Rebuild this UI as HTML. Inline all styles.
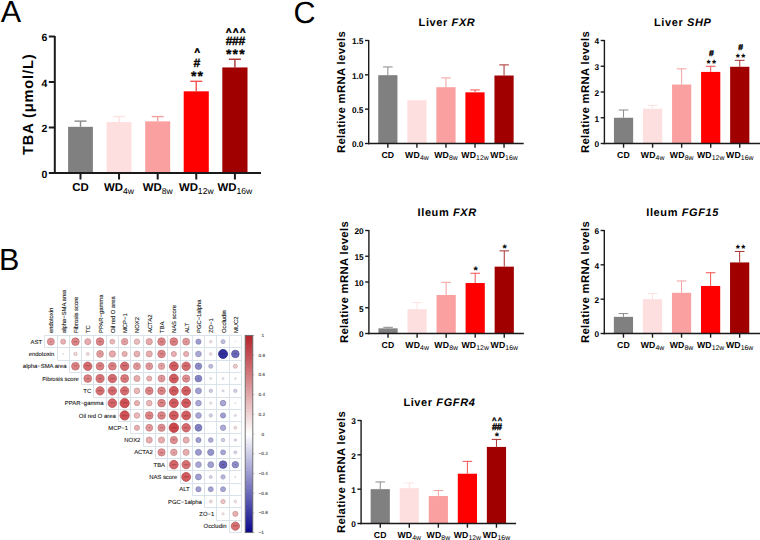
<!DOCTYPE html><html><head><meta charset="utf-8"><style>
html,body{margin:0;padding:0;background:#fff;overflow:hidden;width:760px;height:540px;}
svg{display:block;font-family:"Liberation Sans", sans-serif;text-rendering:geometricPrecision;}
</style></head><body>
<svg width="760" height="540" viewBox="0 0 760 540">
<rect width="760" height="540" fill="#fff"/>
<text x="0.7" y="22.2" font-size="30.5">A</text>
<text x="-1" y="269.7" font-size="30.5">B</text>
<text x="293.6" y="22.5" font-size="30.5">C</text>
<rect x="68.1" y="126.82" width="24.80000000000001" height="46.18" fill="#808080"/>
<line x1="80.5" y1="126.82" x2="80.5" y2="121.13" stroke="#8a8a8a" stroke-width="1.4"/>
<line x1="74.5" y1="121.13" x2="86.5" y2="121.13" stroke="#8a8a8a" stroke-width="1.4"/>
<rect x="106.6" y="122.04" width="24.900000000000006" height="50.96" fill="#fedfe0"/>
<line x1="119.05" y1="122.04" x2="119.05" y2="116.58" stroke="#fde2e2" stroke-width="1.4"/>
<line x1="113.05" y1="116.58" x2="125.05" y2="116.58" stroke="#fde2e2" stroke-width="1.4"/>
<rect x="145.2" y="121.36" width="25.0" height="51.64" fill="#faa0a0"/>
<line x1="157.7" y1="121.36" x2="157.7" y2="116.58" stroke="#f4a0a0" stroke-width="1.4"/>
<line x1="151.7" y1="116.58" x2="163.7" y2="116.58" stroke="#f4a0a0" stroke-width="1.4"/>
<rect x="183.7" y="91.33" width="25.100000000000023" height="81.67" fill="#ff0000"/>
<line x1="196.25" y1="91.33" x2="196.25" y2="81.32" stroke="#f65050" stroke-width="1.4"/>
<line x1="190.25" y1="81.32" x2="202.25" y2="81.32" stroke="#f65050" stroke-width="1.4"/>
<rect x="222.3" y="67.44" width="25.19999999999999" height="105.56" fill="#a00000"/>
<line x1="234.9" y1="67.44" x2="234.9" y2="59.25" stroke="#a83030" stroke-width="1.4"/>
<line x1="228.9" y1="59.25" x2="240.9" y2="59.25" stroke="#a83030" stroke-width="1.4"/>
<line x1="54.8" y1="36.0" x2="54.8" y2="174.0" stroke="#1a1a1a" stroke-width="2"/>
<line x1="53.8" y1="173.0" x2="261" y2="173.0" stroke="#1a1a1a" stroke-width="2"/>
<line x1="48.8" y1="173.00" x2="54.8" y2="173.00" stroke="#1a1a1a" stroke-width="2"/>
<text x="47.3" y="177.51" font-size="10.5" font-weight="bold" text-anchor="end">0</text>
<line x1="48.8" y1="127.50" x2="54.8" y2="127.50" stroke="#1a1a1a" stroke-width="2"/>
<text x="47.3" y="132.01" font-size="10.5" font-weight="bold" text-anchor="end">2</text>
<line x1="48.8" y1="82.00" x2="54.8" y2="82.00" stroke="#1a1a1a" stroke-width="2"/>
<text x="47.3" y="86.52" font-size="10.5" font-weight="bold" text-anchor="end">4</text>
<line x1="48.8" y1="36.50" x2="54.8" y2="36.50" stroke="#1a1a1a" stroke-width="2"/>
<text x="47.3" y="41.02" font-size="10.5" font-weight="bold" text-anchor="end">6</text>
<line x1="80.5" y1="173.0" x2="80.5" y2="179.5" stroke="#1a1a1a" stroke-width="2"/>
<text x="80.5" y="191.4" font-size="11.4" font-weight="bold" text-anchor="middle" letter-spacing="0">CD</text>
<line x1="119.05" y1="173.0" x2="119.05" y2="179.5" stroke="#1a1a1a" stroke-width="2"/>
<text x="119.05" y="191.4" font-size="11.4" font-weight="bold" text-anchor="middle" letter-spacing="0">WD<tspan font-size="8.6" font-weight="normal" letter-spacing="0" dy="2.4000000000000057">4w</tspan></text>
<line x1="157.7" y1="173.0" x2="157.7" y2="179.5" stroke="#1a1a1a" stroke-width="2"/>
<text x="157.7" y="191.4" font-size="11.4" font-weight="bold" text-anchor="middle" letter-spacing="0">WD<tspan font-size="8.6" font-weight="normal" letter-spacing="0" dy="2.4000000000000057">8w</tspan></text>
<line x1="196.25" y1="173.0" x2="196.25" y2="179.5" stroke="#1a1a1a" stroke-width="2"/>
<text x="196.25" y="191.4" font-size="11.4" font-weight="bold" text-anchor="middle" letter-spacing="0">WD<tspan font-size="8.6" font-weight="normal" letter-spacing="0" dy="2.4000000000000057">12w</tspan></text>
<line x1="234.9" y1="173.0" x2="234.9" y2="179.5" stroke="#1a1a1a" stroke-width="2"/>
<text x="234.9" y="191.4" font-size="11.4" font-weight="bold" text-anchor="middle" letter-spacing="0">WD<tspan font-size="8.6" font-weight="normal" letter-spacing="0" dy="2.4000000000000057">16w</tspan></text>
<text transform="translate(33.1,154.9) rotate(-90)" font-size="14.6" font-weight="bold" letter-spacing="0.85">TBA (μmol/L)</text>
<text x="197.20" y="55.32" font-size="9.3" font-weight="bold" text-anchor="middle" stroke="#000" stroke-width="0.55">^</text>
<text x="196.80" y="67.10" font-size="12.2" font-weight="bold" text-anchor="middle" stroke="#000" stroke-width="0.3">#</text>
<text x="193.85" y="81.26" font-size="14" font-weight="bold" text-anchor="middle" stroke="#000" stroke-width="0.25">*</text>
<text x="200.15" y="81.26" font-size="14" font-weight="bold" text-anchor="middle" stroke="#000" stroke-width="0.25">*</text>
<text x="228.60" y="34.92" font-size="9.3" font-weight="bold" text-anchor="middle" stroke="#000" stroke-width="0.55">^</text>
<text x="235.60" y="34.92" font-size="9.3" font-weight="bold" text-anchor="middle" stroke="#000" stroke-width="0.55">^</text>
<text x="242.60" y="34.92" font-size="9.3" font-weight="bold" text-anchor="middle" stroke="#000" stroke-width="0.55">^</text>
<text x="229.20" y="44.60" font-size="12.2" font-weight="bold" text-anchor="middle" stroke="#000" stroke-width="0.3">#</text>
<text x="235.50" y="44.60" font-size="12.2" font-weight="bold" text-anchor="middle" stroke="#000" stroke-width="0.3">#</text>
<text x="241.80" y="44.60" font-size="12.2" font-weight="bold" text-anchor="middle" stroke="#000" stroke-width="0.3">#</text>
<text x="228.70" y="58.66" font-size="14" font-weight="bold" text-anchor="middle" stroke="#000" stroke-width="0.25">*</text>
<text x="235.30" y="58.66" font-size="14" font-weight="bold" text-anchor="middle" stroke="#000" stroke-width="0.25">*</text>
<text x="241.90" y="58.66" font-size="14" font-weight="bold" text-anchor="middle" stroke="#000" stroke-width="0.25">*</text>
<rect x="378.25" y="75.18" width="19.19999999999999" height="68.32" fill="#808080"/>
<line x1="387.85" y1="75.18" x2="387.85" y2="66.94" stroke="#8a8a8a" stroke-width="1.0"/>
<line x1="383.05" y1="66.94" x2="392.65000000000003" y2="66.94" stroke="#8a8a8a" stroke-width="1.0"/>
<rect x="407.3" y="100.24" width="19.19999999999999" height="43.26" fill="#fedfe0"/>
<rect x="436.35" y="87.19" width="19.19999999999999" height="56.31" fill="#faa0a0"/>
<line x1="445.95000000000005" y1="87.19" x2="445.95000000000005" y2="77.92" stroke="#f4a0a0" stroke-width="1.0"/>
<line x1="441.15000000000003" y1="77.92" x2="450.75000000000006" y2="77.92" stroke="#f4a0a0" stroke-width="1.0"/>
<rect x="465.4" y="92.34" width="19.200000000000045" height="51.16" fill="#ff0000"/>
<line x1="475.0" y1="92.34" x2="475.0" y2="89.94" stroke="#f65050" stroke-width="1.0"/>
<line x1="470.2" y1="89.94" x2="479.8" y2="89.94" stroke="#f65050" stroke-width="1.0"/>
<rect x="494.45" y="75.52" width="19.19999999999999" height="67.98" fill="#a00000"/>
<line x1="504.04999999999995" y1="75.52" x2="504.04999999999995" y2="64.88" stroke="#a83030" stroke-width="1.0"/>
<line x1="499.24999999999994" y1="64.88" x2="508.84999999999997" y2="64.88" stroke="#a83030" stroke-width="1.0"/>
<line x1="368.7" y1="40.0" x2="368.7" y2="144.2" stroke="#1a1a1a" stroke-width="1.4"/>
<line x1="368.0" y1="143.5" x2="523.7" y2="143.5" stroke="#1a1a1a" stroke-width="1.4"/>
<line x1="365.0" y1="143.50" x2="368.7" y2="143.50" stroke="#1a1a1a" stroke-width="1.4"/>
<text x="363.5" y="147.40" font-size="8.3" font-weight="bold" text-anchor="end">0.0</text>
<line x1="365.0" y1="109.17" x2="368.7" y2="109.17" stroke="#1a1a1a" stroke-width="1.4"/>
<text x="363.5" y="113.07" font-size="8.3" font-weight="bold" text-anchor="end">0.5</text>
<line x1="365.0" y1="74.83" x2="368.7" y2="74.83" stroke="#1a1a1a" stroke-width="1.4"/>
<text x="363.5" y="78.73" font-size="8.3" font-weight="bold" text-anchor="end">1.0</text>
<line x1="365.0" y1="40.50" x2="368.7" y2="40.50" stroke="#1a1a1a" stroke-width="1.4"/>
<text x="363.5" y="44.40" font-size="8.3" font-weight="bold" text-anchor="end">1.5</text>
<line x1="387.85" y1="143.5" x2="387.85" y2="147.7" stroke="#1a1a1a" stroke-width="1.4"/>
<text x="387.85" y="157.8" font-size="8.7" font-weight="bold" text-anchor="middle" letter-spacing="0.15">CD</text>
<line x1="416.9" y1="143.5" x2="416.9" y2="147.7" stroke="#1a1a1a" stroke-width="1.4"/>
<text x="416.9" y="157.8" font-size="8.7" font-weight="bold" text-anchor="middle" letter-spacing="0.15">WD<tspan font-size="6.9" font-weight="normal" letter-spacing="0" dy="2.0">4w</tspan></text>
<line x1="445.95000000000005" y1="143.5" x2="445.95000000000005" y2="147.7" stroke="#1a1a1a" stroke-width="1.4"/>
<text x="445.95000000000005" y="157.8" font-size="8.7" font-weight="bold" text-anchor="middle" letter-spacing="0.15">WD<tspan font-size="6.9" font-weight="normal" letter-spacing="0" dy="2.0">8w</tspan></text>
<line x1="475.0" y1="143.5" x2="475.0" y2="147.7" stroke="#1a1a1a" stroke-width="1.4"/>
<text x="475.0" y="157.8" font-size="8.7" font-weight="bold" text-anchor="middle" letter-spacing="0.15">WD<tspan font-size="6.9" font-weight="normal" letter-spacing="0" dy="2.0">12w</tspan></text>
<line x1="504.04999999999995" y1="143.5" x2="504.04999999999995" y2="147.7" stroke="#1a1a1a" stroke-width="1.4"/>
<text x="504.04999999999995" y="157.8" font-size="8.7" font-weight="bold" text-anchor="middle" letter-spacing="0.15">WD<tspan font-size="6.9" font-weight="normal" letter-spacing="0" dy="2.0">16w</tspan></text>
<text transform="translate(345.2,92.0) rotate(-90)" x="0" y="0" font-size="11.3" font-weight="bold" text-anchor="middle" letter-spacing="0.35">Relative mRNA levels</text>
<text x="447.0" y="26.1" font-size="11" font-weight="bold" text-anchor="middle" letter-spacing="0.6">Liver <tspan font-style="italic">FXR</tspan></text>
<rect x="613.95" y="117.75" width="19.199999999999932" height="25.75" fill="#808080"/>
<line x1="623.55" y1="117.75" x2="623.55" y2="110.03" stroke="#8a8a8a" stroke-width="1.0"/>
<line x1="618.75" y1="110.03" x2="628.3499999999999" y2="110.03" stroke="#8a8a8a" stroke-width="1.0"/>
<rect x="643.0" y="108.74" width="19.200000000000045" height="34.76" fill="#fedfe0"/>
<line x1="652.6" y1="108.74" x2="652.6" y2="105.39" stroke="#fde2e2" stroke-width="1.0"/>
<line x1="647.8" y1="105.39" x2="657.4000000000001" y2="105.39" stroke="#fde2e2" stroke-width="1.0"/>
<rect x="672.05" y="84.53" width="19.200000000000045" height="58.97" fill="#faa0a0"/>
<line x1="681.65" y1="84.53" x2="681.65" y2="68.83" stroke="#f4a0a0" stroke-width="1.0"/>
<line x1="676.8499999999999" y1="68.83" x2="686.45" y2="68.83" stroke="#f4a0a0" stroke-width="1.0"/>
<rect x="701.1" y="71.92" width="19.199999999999932" height="71.58" fill="#ff0000"/>
<line x1="710.7" y1="71.92" x2="710.7" y2="66.25" stroke="#f65050" stroke-width="1.0"/>
<line x1="705.9000000000001" y1="66.25" x2="715.5" y2="66.25" stroke="#f65050" stroke-width="1.0"/>
<rect x="730.15" y="66.77" width="19.200000000000045" height="76.73" fill="#a00000"/>
<line x1="739.75" y1="66.77" x2="739.75" y2="60.33" stroke="#a83030" stroke-width="1.0"/>
<line x1="734.95" y1="60.33" x2="744.55" y2="60.33" stroke="#a83030" stroke-width="1.0"/>
<line x1="604.4" y1="40.0" x2="604.4" y2="144.2" stroke="#1a1a1a" stroke-width="1.4"/>
<line x1="603.6999999999999" y1="143.5" x2="760" y2="143.5" stroke="#1a1a1a" stroke-width="1.4"/>
<line x1="600.6999999999999" y1="143.50" x2="604.4" y2="143.50" stroke="#1a1a1a" stroke-width="1.4"/>
<text x="599.1999999999999" y="147.40" font-size="8.3" font-weight="bold" text-anchor="end">0</text>
<line x1="600.6999999999999" y1="117.75" x2="604.4" y2="117.75" stroke="#1a1a1a" stroke-width="1.4"/>
<text x="599.1999999999999" y="121.65" font-size="8.3" font-weight="bold" text-anchor="end">1</text>
<line x1="600.6999999999999" y1="92.00" x2="604.4" y2="92.00" stroke="#1a1a1a" stroke-width="1.4"/>
<text x="599.1999999999999" y="95.90" font-size="8.3" font-weight="bold" text-anchor="end">2</text>
<line x1="600.6999999999999" y1="66.25" x2="604.4" y2="66.25" stroke="#1a1a1a" stroke-width="1.4"/>
<text x="599.1999999999999" y="70.15" font-size="8.3" font-weight="bold" text-anchor="end">3</text>
<line x1="600.6999999999999" y1="40.50" x2="604.4" y2="40.50" stroke="#1a1a1a" stroke-width="1.4"/>
<text x="599.1999999999999" y="44.40" font-size="8.3" font-weight="bold" text-anchor="end">4</text>
<line x1="623.55" y1="143.5" x2="623.55" y2="147.7" stroke="#1a1a1a" stroke-width="1.4"/>
<text x="623.55" y="157.8" font-size="8.7" font-weight="bold" text-anchor="middle" letter-spacing="0.15">CD</text>
<line x1="652.6" y1="143.5" x2="652.6" y2="147.7" stroke="#1a1a1a" stroke-width="1.4"/>
<text x="652.6" y="157.8" font-size="8.7" font-weight="bold" text-anchor="middle" letter-spacing="0.15">WD<tspan font-size="6.9" font-weight="normal" letter-spacing="0" dy="2.0">4w</tspan></text>
<line x1="681.65" y1="143.5" x2="681.65" y2="147.7" stroke="#1a1a1a" stroke-width="1.4"/>
<text x="681.65" y="157.8" font-size="8.7" font-weight="bold" text-anchor="middle" letter-spacing="0.15">WD<tspan font-size="6.9" font-weight="normal" letter-spacing="0" dy="2.0">8w</tspan></text>
<line x1="710.7" y1="143.5" x2="710.7" y2="147.7" stroke="#1a1a1a" stroke-width="1.4"/>
<text x="710.7" y="157.8" font-size="8.7" font-weight="bold" text-anchor="middle" letter-spacing="0.15">WD<tspan font-size="6.9" font-weight="normal" letter-spacing="0" dy="2.0">12w</tspan></text>
<line x1="739.75" y1="143.5" x2="739.75" y2="147.7" stroke="#1a1a1a" stroke-width="1.4"/>
<text x="739.75" y="157.8" font-size="8.7" font-weight="bold" text-anchor="middle" letter-spacing="0.15">WD<tspan font-size="6.9" font-weight="normal" letter-spacing="0" dy="2.0">16w</tspan></text>
<text transform="translate(588.5,92.0) rotate(-90)" x="0" y="0" font-size="11.3" font-weight="bold" text-anchor="middle" letter-spacing="0.35">Relative mRNA levels</text>
<text x="682.7" y="26.1" font-size="11" font-weight="bold" text-anchor="middle" letter-spacing="0.6">Liver <tspan font-style="italic">SHP</tspan></text>
<text x="711.50" y="56.05" font-size="8.6" font-weight="bold" text-anchor="middle" stroke="#000" stroke-width="0.35">#</text>
<text x="708.60" y="66.55" font-size="10.5" font-weight="bold" text-anchor="middle">*</text>
<text x="714.00" y="66.55" font-size="10.5" font-weight="bold" text-anchor="middle">*</text>
<text x="740.70" y="50.15" font-size="8.6" font-weight="bold" text-anchor="middle" stroke="#000" stroke-width="0.35">#</text>
<text x="737.80" y="60.64" font-size="10.5" font-weight="bold" text-anchor="middle">*</text>
<text x="743.20" y="60.64" font-size="10.5" font-weight="bold" text-anchor="middle">*</text>
<rect x="378.45" y="328.35" width="19.19999999999999" height="5.15" fill="#808080"/>
<line x1="388.04999999999995" y1="328.35" x2="388.04999999999995" y2="327.32" stroke="#8a8a8a" stroke-width="1.0"/>
<line x1="383.24999999999994" y1="327.32" x2="392.84999999999997" y2="327.32" stroke="#8a8a8a" stroke-width="1.0"/>
<rect x="407.5" y="309.09" width="19.19999999999999" height="24.41" fill="#fedfe0"/>
<line x1="417.1" y1="309.09" x2="417.1" y2="302.60" stroke="#fde2e2" stroke-width="1.0"/>
<line x1="412.3" y1="302.60" x2="421.90000000000003" y2="302.60" stroke="#fde2e2" stroke-width="1.0"/>
<rect x="436.55" y="295.03" width="19.19999999999999" height="38.47" fill="#faa0a0"/>
<line x1="446.15" y1="295.03" x2="446.15" y2="282.31" stroke="#f4a0a0" stroke-width="1.0"/>
<line x1="441.34999999999997" y1="282.31" x2="450.95" y2="282.31" stroke="#f4a0a0" stroke-width="1.0"/>
<rect x="465.6" y="283.03" width="19.19999999999999" height="50.47" fill="#ff0000"/>
<line x1="475.20000000000005" y1="283.03" x2="475.20000000000005" y2="273.25" stroke="#f65050" stroke-width="1.0"/>
<line x1="470.40000000000003" y1="273.25" x2="480.00000000000006" y2="273.25" stroke="#f65050" stroke-width="1.0"/>
<rect x="494.65" y="266.65" width="19.200000000000045" height="66.85" fill="#a00000"/>
<line x1="504.25" y1="266.65" x2="504.25" y2="250.89" stroke="#a83030" stroke-width="1.0"/>
<line x1="499.45" y1="250.89" x2="509.05" y2="250.89" stroke="#a83030" stroke-width="1.0"/>
<line x1="368.9" y1="230.0" x2="368.9" y2="334.2" stroke="#1a1a1a" stroke-width="1.4"/>
<line x1="368.2" y1="333.5" x2="523.9" y2="333.5" stroke="#1a1a1a" stroke-width="1.4"/>
<line x1="365.2" y1="333.50" x2="368.9" y2="333.50" stroke="#1a1a1a" stroke-width="1.4"/>
<text x="363.7" y="337.40" font-size="8.3" font-weight="bold" text-anchor="end">0</text>
<line x1="365.2" y1="307.75" x2="368.9" y2="307.75" stroke="#1a1a1a" stroke-width="1.4"/>
<text x="363.7" y="311.65" font-size="8.3" font-weight="bold" text-anchor="end">5</text>
<line x1="365.2" y1="282.00" x2="368.9" y2="282.00" stroke="#1a1a1a" stroke-width="1.4"/>
<text x="363.7" y="285.90" font-size="8.3" font-weight="bold" text-anchor="end">10</text>
<line x1="365.2" y1="256.25" x2="368.9" y2="256.25" stroke="#1a1a1a" stroke-width="1.4"/>
<text x="363.7" y="260.15" font-size="8.3" font-weight="bold" text-anchor="end">15</text>
<line x1="365.2" y1="230.50" x2="368.9" y2="230.50" stroke="#1a1a1a" stroke-width="1.4"/>
<text x="363.7" y="234.40" font-size="8.3" font-weight="bold" text-anchor="end">20</text>
<line x1="388.04999999999995" y1="333.5" x2="388.04999999999995" y2="337.7" stroke="#1a1a1a" stroke-width="1.4"/>
<text x="388.04999999999995" y="347.8" font-size="8.7" font-weight="bold" text-anchor="middle" letter-spacing="0.15">CD</text>
<line x1="417.1" y1="333.5" x2="417.1" y2="337.7" stroke="#1a1a1a" stroke-width="1.4"/>
<text x="417.1" y="347.8" font-size="8.7" font-weight="bold" text-anchor="middle" letter-spacing="0.15">WD<tspan font-size="6.9" font-weight="normal" letter-spacing="0" dy="2.0">4w</tspan></text>
<line x1="446.15" y1="333.5" x2="446.15" y2="337.7" stroke="#1a1a1a" stroke-width="1.4"/>
<text x="446.15" y="347.8" font-size="8.7" font-weight="bold" text-anchor="middle" letter-spacing="0.15">WD<tspan font-size="6.9" font-weight="normal" letter-spacing="0" dy="2.0">8w</tspan></text>
<line x1="475.20000000000005" y1="333.5" x2="475.20000000000005" y2="337.7" stroke="#1a1a1a" stroke-width="1.4"/>
<text x="475.20000000000005" y="347.8" font-size="8.7" font-weight="bold" text-anchor="middle" letter-spacing="0.15">WD<tspan font-size="6.9" font-weight="normal" letter-spacing="0" dy="2.0">12w</tspan></text>
<line x1="504.25" y1="333.5" x2="504.25" y2="337.7" stroke="#1a1a1a" stroke-width="1.4"/>
<text x="504.25" y="347.8" font-size="8.7" font-weight="bold" text-anchor="middle" letter-spacing="0.15">WD<tspan font-size="6.9" font-weight="normal" letter-spacing="0" dy="2.0">16w</tspan></text>
<text transform="translate(348.29999999999995,282.0) rotate(-90)" x="0" y="0" font-size="11.3" font-weight="bold" text-anchor="middle" letter-spacing="0.35">Relative mRNA levels</text>
<text x="447.2" y="215.9" font-size="11" font-weight="bold" text-anchor="middle" letter-spacing="0.6">Ileum <tspan font-style="italic">FXR</tspan></text>
<text x="475.60" y="274.39" font-size="11" font-weight="bold" text-anchor="middle">*</text>
<text x="504.70" y="251.69" font-size="11" font-weight="bold" text-anchor="middle">*</text>
<rect x="613.85" y="316.85" width="19.199999999999932" height="16.65" fill="#808080"/>
<line x1="623.45" y1="316.85" x2="623.45" y2="313.59" stroke="#8a8a8a" stroke-width="1.0"/>
<line x1="618.6500000000001" y1="313.59" x2="628.25" y2="313.59" stroke="#8a8a8a" stroke-width="1.0"/>
<rect x="642.9" y="299.17" width="19.200000000000045" height="34.33" fill="#fedfe0"/>
<line x1="652.5" y1="299.17" x2="652.5" y2="293.50" stroke="#fde2e2" stroke-width="1.0"/>
<line x1="647.7" y1="293.50" x2="657.3" y2="293.50" stroke="#fde2e2" stroke-width="1.0"/>
<rect x="671.95" y="292.81" width="19.199999999999932" height="40.69" fill="#faa0a0"/>
<line x1="681.55" y1="292.81" x2="681.55" y2="280.97" stroke="#f4a0a0" stroke-width="1.0"/>
<line x1="676.75" y1="280.97" x2="686.3499999999999" y2="280.97" stroke="#f4a0a0" stroke-width="1.0"/>
<rect x="701.0" y="285.95" width="19.200000000000045" height="47.55" fill="#ff0000"/>
<line x1="710.6" y1="285.95" x2="710.6" y2="272.73" stroke="#f65050" stroke-width="1.0"/>
<line x1="705.8" y1="272.73" x2="715.4000000000001" y2="272.73" stroke="#f65050" stroke-width="1.0"/>
<rect x="730.05" y="262.43" width="19.200000000000045" height="71.07" fill="#a00000"/>
<line x1="739.65" y1="262.43" x2="739.65" y2="251.44" stroke="#a83030" stroke-width="1.0"/>
<line x1="734.8499999999999" y1="251.44" x2="744.45" y2="251.44" stroke="#a83030" stroke-width="1.0"/>
<line x1="604.3" y1="230.0" x2="604.3" y2="334.2" stroke="#1a1a1a" stroke-width="1.4"/>
<line x1="603.5999999999999" y1="333.5" x2="760" y2="333.5" stroke="#1a1a1a" stroke-width="1.4"/>
<line x1="600.5999999999999" y1="333.50" x2="604.3" y2="333.50" stroke="#1a1a1a" stroke-width="1.4"/>
<text x="599.0999999999999" y="337.40" font-size="8.3" font-weight="bold" text-anchor="end">0</text>
<line x1="600.5999999999999" y1="299.17" x2="604.3" y2="299.17" stroke="#1a1a1a" stroke-width="1.4"/>
<text x="599.0999999999999" y="303.07" font-size="8.3" font-weight="bold" text-anchor="end">2</text>
<line x1="600.5999999999999" y1="264.83" x2="604.3" y2="264.83" stroke="#1a1a1a" stroke-width="1.4"/>
<text x="599.0999999999999" y="268.73" font-size="8.3" font-weight="bold" text-anchor="end">4</text>
<line x1="600.5999999999999" y1="230.50" x2="604.3" y2="230.50" stroke="#1a1a1a" stroke-width="1.4"/>
<text x="599.0999999999999" y="234.40" font-size="8.3" font-weight="bold" text-anchor="end">6</text>
<line x1="623.45" y1="333.5" x2="623.45" y2="337.7" stroke="#1a1a1a" stroke-width="1.4"/>
<text x="623.45" y="347.8" font-size="8.7" font-weight="bold" text-anchor="middle" letter-spacing="0.15">CD</text>
<line x1="652.5" y1="333.5" x2="652.5" y2="337.7" stroke="#1a1a1a" stroke-width="1.4"/>
<text x="652.5" y="347.8" font-size="8.7" font-weight="bold" text-anchor="middle" letter-spacing="0.15">WD<tspan font-size="6.9" font-weight="normal" letter-spacing="0" dy="2.0">4w</tspan></text>
<line x1="681.55" y1="333.5" x2="681.55" y2="337.7" stroke="#1a1a1a" stroke-width="1.4"/>
<text x="681.55" y="347.8" font-size="8.7" font-weight="bold" text-anchor="middle" letter-spacing="0.15">WD<tspan font-size="6.9" font-weight="normal" letter-spacing="0" dy="2.0">8w</tspan></text>
<line x1="710.6" y1="333.5" x2="710.6" y2="337.7" stroke="#1a1a1a" stroke-width="1.4"/>
<text x="710.6" y="347.8" font-size="8.7" font-weight="bold" text-anchor="middle" letter-spacing="0.15">WD<tspan font-size="6.9" font-weight="normal" letter-spacing="0" dy="2.0">12w</tspan></text>
<line x1="739.65" y1="333.5" x2="739.65" y2="337.7" stroke="#1a1a1a" stroke-width="1.4"/>
<text x="739.65" y="347.8" font-size="8.7" font-weight="bold" text-anchor="middle" letter-spacing="0.15">WD<tspan font-size="6.9" font-weight="normal" letter-spacing="0" dy="2.0">16w</tspan></text>
<text transform="translate(588.5,282.0) rotate(-90)" x="0" y="0" font-size="11.3" font-weight="bold" text-anchor="middle" letter-spacing="0.35">Relative mRNA levels</text>
<text x="682.5999999999999" y="215.9" font-size="11" font-weight="bold" text-anchor="middle" letter-spacing="0.6">Ileum <tspan font-style="italic">FGF15</tspan></text>
<text x="737.80" y="251.55" font-size="10.5" font-weight="bold" text-anchor="middle">*</text>
<text x="743.20" y="251.55" font-size="10.5" font-weight="bold" text-anchor="middle">*</text>
<rect x="370.65" y="489.17" width="19.200000000000045" height="34.33" fill="#808080"/>
<line x1="380.25" y1="489.17" x2="380.25" y2="481.96" stroke="#8a8a8a" stroke-width="1.0"/>
<line x1="375.45" y1="481.96" x2="385.05" y2="481.96" stroke="#8a8a8a" stroke-width="1.0"/>
<rect x="399.7" y="488.14" width="19.19999999999999" height="35.36" fill="#fedfe0"/>
<line x1="409.29999999999995" y1="488.14" x2="409.29999999999995" y2="482.99" stroke="#fde2e2" stroke-width="1.0"/>
<line x1="404.49999999999994" y1="482.99" x2="414.09999999999997" y2="482.99" stroke="#fde2e2" stroke-width="1.0"/>
<rect x="428.75" y="496.03" width="19.19999999999999" height="27.47" fill="#faa0a0"/>
<line x1="438.35" y1="496.03" x2="438.35" y2="490.54" stroke="#f4a0a0" stroke-width="1.0"/>
<line x1="433.55" y1="490.54" x2="443.15000000000003" y2="490.54" stroke="#f4a0a0" stroke-width="1.0"/>
<rect x="457.8" y="473.72" width="19.19999999999999" height="49.78" fill="#ff0000"/>
<line x1="467.4" y1="473.72" x2="467.4" y2="461.36" stroke="#f65050" stroke-width="1.0"/>
<line x1="462.59999999999997" y1="461.36" x2="472.2" y2="461.36" stroke="#f65050" stroke-width="1.0"/>
<rect x="486.85" y="446.94" width="19.19999999999999" height="76.56" fill="#a00000"/>
<line x1="496.45000000000005" y1="446.94" x2="496.45000000000005" y2="439.38" stroke="#a83030" stroke-width="1.0"/>
<line x1="491.65000000000003" y1="439.38" x2="501.25000000000006" y2="439.38" stroke="#a83030" stroke-width="1.0"/>
<line x1="361.1" y1="420.0" x2="361.1" y2="524.2" stroke="#1a1a1a" stroke-width="1.4"/>
<line x1="360.40000000000003" y1="523.5" x2="516.1" y2="523.5" stroke="#1a1a1a" stroke-width="1.4"/>
<line x1="357.40000000000003" y1="523.50" x2="361.1" y2="523.50" stroke="#1a1a1a" stroke-width="1.4"/>
<text x="355.90000000000003" y="527.40" font-size="8.3" font-weight="bold" text-anchor="end">0</text>
<line x1="357.40000000000003" y1="489.17" x2="361.1" y2="489.17" stroke="#1a1a1a" stroke-width="1.4"/>
<text x="355.90000000000003" y="493.07" font-size="8.3" font-weight="bold" text-anchor="end">1</text>
<line x1="357.40000000000003" y1="454.83" x2="361.1" y2="454.83" stroke="#1a1a1a" stroke-width="1.4"/>
<text x="355.90000000000003" y="458.73" font-size="8.3" font-weight="bold" text-anchor="end">2</text>
<line x1="357.40000000000003" y1="420.50" x2="361.1" y2="420.50" stroke="#1a1a1a" stroke-width="1.4"/>
<text x="355.90000000000003" y="424.40" font-size="8.3" font-weight="bold" text-anchor="end">3</text>
<line x1="380.25" y1="523.5" x2="380.25" y2="527.7" stroke="#1a1a1a" stroke-width="1.4"/>
<text x="380.25" y="537.8" font-size="8.7" font-weight="bold" text-anchor="middle" letter-spacing="0.15">CD</text>
<line x1="409.29999999999995" y1="523.5" x2="409.29999999999995" y2="527.7" stroke="#1a1a1a" stroke-width="1.4"/>
<text x="409.29999999999995" y="537.8" font-size="8.7" font-weight="bold" text-anchor="middle" letter-spacing="0.15">WD<tspan font-size="6.9" font-weight="normal" letter-spacing="0" dy="2.0">4w</tspan></text>
<line x1="438.35" y1="523.5" x2="438.35" y2="527.7" stroke="#1a1a1a" stroke-width="1.4"/>
<text x="438.35" y="537.8" font-size="8.7" font-weight="bold" text-anchor="middle" letter-spacing="0.15">WD<tspan font-size="6.9" font-weight="normal" letter-spacing="0" dy="2.0">8w</tspan></text>
<line x1="467.4" y1="523.5" x2="467.4" y2="527.7" stroke="#1a1a1a" stroke-width="1.4"/>
<text x="467.4" y="537.8" font-size="8.7" font-weight="bold" text-anchor="middle" letter-spacing="0.15">WD<tspan font-size="6.9" font-weight="normal" letter-spacing="0" dy="2.0">12w</tspan></text>
<line x1="496.45000000000005" y1="523.5" x2="496.45000000000005" y2="527.7" stroke="#1a1a1a" stroke-width="1.4"/>
<text x="496.45000000000005" y="537.8" font-size="8.7" font-weight="bold" text-anchor="middle" letter-spacing="0.15">WD<tspan font-size="6.9" font-weight="normal" letter-spacing="0" dy="2.0">16w</tspan></text>
<text transform="translate(344.6,472.0) rotate(-90)" x="0" y="0" font-size="11.3" font-weight="bold" text-anchor="middle" letter-spacing="0.35">Relative mRNA levels</text>
<text x="439.40000000000003" y="405.6" font-size="11" font-weight="bold" text-anchor="middle" letter-spacing="0.6">Liver <tspan font-style="italic">FGFR4</tspan></text>
<text x="494.10" y="422.64" font-size="7.6" font-weight="bold" text-anchor="middle" stroke="#000" stroke-width="0.35">^</text>
<text x="499.90" y="422.64" font-size="7.6" font-weight="bold" text-anchor="middle" stroke="#000" stroke-width="0.35">^</text>
<text x="494.70" y="429.76" font-size="9.5" font-weight="bold" text-anchor="middle" stroke="#000" stroke-width="0.35">#</text>
<text x="499.50" y="429.76" font-size="9.5" font-weight="bold" text-anchor="middle" stroke="#000" stroke-width="0.35">#</text>
<text x="497.00" y="440.29" font-size="11" font-weight="bold" text-anchor="middle">*</text>
<path d="M44.50 335.50H241.50M44.50 347.50H241.50M57.50 347.50H241.50M57.50 360.50H241.50M69.50 360.50H241.50M69.50 372.50H241.50M81.50 372.50H241.50M81.50 384.50H241.50M93.50 384.50H241.50M93.50 397.50H241.50M106.50 397.50H241.50M106.50 409.50H241.50M118.50 409.50H241.50M118.50 421.50H241.50M130.50 421.50H241.50M130.50 433.50H241.50M143.50 433.50H241.50M143.50 446.50H241.50M155.50 446.50H241.50M155.50 458.50H241.50M167.50 458.50H241.50M167.50 470.50H241.50M180.50 470.50H241.50M180.50 483.50H241.50M192.50 483.50H241.50M192.50 495.50H241.50M204.50 495.50H241.50M204.50 507.50H241.50M216.50 507.50H241.50M216.50 520.50H241.50M229.50 520.50H241.50M229.50 532.50H241.50M44.50 335.50V347.50M57.50 335.50V360.50M69.50 335.50V372.50M81.50 335.50V384.50M93.50 335.50V397.50M106.50 335.50V409.50M118.50 335.50V421.50M130.50 335.50V433.50M143.50 335.50V446.50M155.50 335.50V458.50M167.50 335.50V470.50M180.50 335.50V483.50M192.50 335.50V495.50M204.50 335.50V507.50M216.50 335.50V520.50M229.50 335.50V532.50M241.50 335.50V532.50" stroke="#dae3ea" stroke-width="1" fill="none"/>
<circle cx="50.85" cy="341.65" r="3.50" fill="#e19497" stroke="#c07e80" stroke-width="0.8"/>
<text x="50.85" y="343.85" font-size="4.2" text-anchor="middle" fill="#3a1010" fill-opacity="0.75">*</text>
<circle cx="63.15" cy="341.65" r="2.51" fill="#eab2b4" stroke="#c69799" stroke-width="0.8"/>
<circle cx="75.45" cy="341.65" r="3.79" fill="#dd8487" stroke="#bc7073" stroke-width="0.8"/>
<text x="75.45" y="343.85" font-size="4.2" text-anchor="middle" fill="#3a1010" fill-opacity="0.75">**</text>
<circle cx="87.75" cy="341.65" r="3.02" fill="#e8adaf" stroke="#c59395" stroke-width="0.8"/>
<circle cx="100.05" cy="341.65" r="3.79" fill="#dd8487" stroke="#bc7073" stroke-width="0.8"/>
<text x="100.05" y="343.85" font-size="4.2" text-anchor="middle" fill="#3a1010" fill-opacity="0.75">**</text>
<circle cx="112.35" cy="341.65" r="2.41" fill="#ebb7b9" stroke="#c89c9d" stroke-width="0.8"/>
<circle cx="124.65" cy="341.65" r="3.23" fill="#e5a3a5" stroke="#c38a8c" stroke-width="0.8"/>
<text x="124.65" y="343.85" font-size="4.2" text-anchor="middle" fill="#3a1010" fill-opacity="0.75">*</text>
<circle cx="136.95" cy="341.65" r="2.71" fill="#ecbbbd" stroke="#c99fa1" stroke-width="0.8"/>
<circle cx="149.25" cy="341.65" r="3.11" fill="#e7a9ab" stroke="#c49091" stroke-width="0.8"/>
<circle cx="161.55" cy="341.65" r="3.79" fill="#dd8487" stroke="#bc7073" stroke-width="0.8"/>
<text x="161.55" y="343.85" font-size="4.2" text-anchor="middle" fill="#3a1010" fill-opacity="0.75">**</text>
<circle cx="173.85" cy="341.65" r="3.86" fill="#dc8083" stroke="#bb6d6f" stroke-width="0.8"/>
<text x="173.85" y="343.85" font-size="4.2" text-anchor="middle" fill="#3a1010" fill-opacity="0.75">**</text>
<circle cx="186.15" cy="341.65" r="3.43" fill="#e2989b" stroke="#c18284" stroke-width="0.8"/>
<text x="186.15" y="343.85" font-size="4.2" text-anchor="middle" fill="#3a1010" fill-opacity="0.75">*</text>
<circle cx="198.45" cy="341.65" r="2.56" fill="#9e9dd2" stroke="#8686b2" stroke-width="0.8"/>
<circle cx="210.75" cy="341.65" r="1.31" fill="#f8e4e5" stroke="#d2c2c3" stroke-width="0.8"/>
<circle cx="223.05" cy="341.65" r="2.02" fill="#bebee1" stroke="#a2a1bf" stroke-width="0.8"/>
<circle cx="235.35" cy="341.65" r="0.37" fill="#fefafa" stroke="#d7d4d4" stroke-width="0.8"/>
<circle cx="63.15" cy="353.95" r="0.54" fill="#fdf7f7" stroke="#d7d2d2" stroke-width="0.8"/>
<circle cx="75.45" cy="353.95" r="1.70" fill="#f4d7d8" stroke="#cfb7b8" stroke-width="0.8"/>
<circle cx="87.75" cy="353.95" r="1.47" fill="#f6dfe0" stroke="#d1bebe" stroke-width="0.8"/>
<circle cx="100.05" cy="353.95" r="3.35" fill="#e49d9f" stroke="#c18587" stroke-width="0.8"/>
<text x="100.05" y="356.15" font-size="4.2" text-anchor="middle" fill="#3a1010" fill-opacity="0.75">*</text>
<circle cx="112.35" cy="353.95" r="3.11" fill="#e7a9ab" stroke="#c49091" stroke-width="0.8"/>
<circle cx="124.65" cy="353.95" r="2.56" fill="#e9afb1" stroke="#c69596" stroke-width="0.8"/>
<circle cx="136.95" cy="353.95" r="2.94" fill="#e9b1b3" stroke="#c69798" stroke-width="0.8"/>
<circle cx="149.25" cy="353.95" r="3.02" fill="#e8adaf" stroke="#c59395" stroke-width="0.8"/>
<circle cx="161.55" cy="353.95" r="3.79" fill="#dd8487" stroke="#bc7073" stroke-width="0.8"/>
<text x="161.55" y="356.15" font-size="4.2" text-anchor="middle" fill="#3a1010" fill-opacity="0.75">**</text>
<circle cx="173.85" cy="353.95" r="2.56" fill="#e9afb1" stroke="#c69596" stroke-width="0.8"/>
<circle cx="186.15" cy="353.95" r="2.56" fill="#e9afb1" stroke="#c69596" stroke-width="0.8"/>
<circle cx="198.45" cy="353.95" r="2.80" fill="#a8a7d6" stroke="#8e8eb6" stroke-width="0.8"/>
<circle cx="210.75" cy="353.95" r="1.31" fill="#f8e4e5" stroke="#d2c2c3" stroke-width="0.8"/>
<circle cx="223.05" cy="353.95" r="4.50" fill="#3231a0" stroke="#2a2a88" stroke-width="0.8"/>
<text x="223.05" y="356.15" font-size="4.2" text-anchor="middle" fill="#3a1010" fill-opacity="0.75">***</text>
<circle cx="235.35" cy="353.95" r="3.79" fill="#6968b9" stroke="#59599e" stroke-width="0.8"/>
<text x="235.35" y="356.15" font-size="4.2" text-anchor="middle" fill="#3a1010" fill-opacity="0.75">**</text>
<circle cx="75.45" cy="366.25" r="3.86" fill="#dc8083" stroke="#bb6d6f" stroke-width="0.8"/>
<text x="75.45" y="368.45" font-size="4.2" text-anchor="middle" fill="#3a1010" fill-opacity="0.75">**</text>
<circle cx="87.75" cy="366.25" r="4.19" fill="#d66b6f" stroke="#b65b5e" stroke-width="0.8"/>
<text x="87.75" y="368.45" font-size="4.2" text-anchor="middle" fill="#3a1010" fill-opacity="0.75">***</text>
<circle cx="100.05" cy="366.25" r="3.86" fill="#dc8083" stroke="#bb6d6f" stroke-width="0.8"/>
<text x="100.05" y="368.45" font-size="4.2" text-anchor="middle" fill="#3a1010" fill-opacity="0.75">**</text>
<circle cx="112.35" cy="366.25" r="3.86" fill="#dc8083" stroke="#bb6d6f" stroke-width="0.8"/>
<text x="112.35" y="368.45" font-size="4.2" text-anchor="middle" fill="#3a1010" fill-opacity="0.75">**</text>
<circle cx="124.65" cy="366.25" r="4.19" fill="#d66b6f" stroke="#b65b5e" stroke-width="0.8"/>
<text x="124.65" y="368.45" font-size="4.2" text-anchor="middle" fill="#3a1010" fill-opacity="0.75">***</text>
<circle cx="136.95" cy="366.25" r="3.43" fill="#e2989b" stroke="#c18284" stroke-width="0.8"/>
<text x="136.95" y="368.45" font-size="4.2" text-anchor="middle" fill="#3a1010" fill-opacity="0.75">*</text>
<circle cx="149.25" cy="366.25" r="3.43" fill="#e2989b" stroke="#c18284" stroke-width="0.8"/>
<text x="149.25" y="368.45" font-size="4.2" text-anchor="middle" fill="#3a1010" fill-opacity="0.75">*</text>
<circle cx="161.55" cy="366.25" r="3.23" fill="#e5a3a5" stroke="#c38a8c" stroke-width="0.8"/>
<text x="161.55" y="368.45" font-size="4.2" text-anchor="middle" fill="#3a1010" fill-opacity="0.75">*</text>
<circle cx="173.85" cy="366.25" r="4.38" fill="#d35f63" stroke="#b35154" stroke-width="0.8"/>
<text x="173.85" y="368.45" font-size="4.2" text-anchor="middle" fill="#3a1010" fill-opacity="0.75">***</text>
<circle cx="186.15" cy="366.25" r="4.19" fill="#d66b6f" stroke="#b65b5e" stroke-width="0.8"/>
<text x="186.15" y="368.45" font-size="4.2" text-anchor="middle" fill="#3a1010" fill-opacity="0.75">***</text>
<circle cx="198.45" cy="366.25" r="3.23" fill="#8e8ecb" stroke="#7979ac" stroke-width="0.8"/>
<text x="198.45" y="368.45" font-size="4.2" text-anchor="middle" fill="#3a1010" fill-opacity="0.75">*</text>
<circle cx="210.75" cy="366.25" r="2.02" fill="#bebee1" stroke="#a2a1bf" stroke-width="0.8"/>
<circle cx="235.35" cy="366.25" r="2.02" fill="#f0cacb" stroke="#ccabad" stroke-width="0.8"/>
<circle cx="87.75" cy="378.55" r="3.86" fill="#dc8083" stroke="#bb6d6f" stroke-width="0.8"/>
<text x="87.75" y="380.75" font-size="4.2" text-anchor="middle" fill="#3a1010" fill-opacity="0.75">**</text>
<circle cx="100.05" cy="378.55" r="4.06" fill="#d87477" stroke="#b86265" stroke-width="0.8"/>
<text x="100.05" y="380.75" font-size="4.2" text-anchor="middle" fill="#3a1010" fill-opacity="0.75">**</text>
<circle cx="112.35" cy="378.55" r="4.19" fill="#d66b6f" stroke="#b65b5e" stroke-width="0.8"/>
<text x="112.35" y="380.75" font-size="4.2" text-anchor="middle" fill="#3a1010" fill-opacity="0.75">***</text>
<circle cx="124.65" cy="378.55" r="3.96" fill="#da7a7d" stroke="#b9676a" stroke-width="0.8"/>
<text x="124.65" y="380.75" font-size="4.2" text-anchor="middle" fill="#3a1010" fill-opacity="0.75">**</text>
<circle cx="136.95" cy="378.55" r="3.02" fill="#e8adaf" stroke="#c59395" stroke-width="0.8"/>
<circle cx="149.25" cy="378.55" r="2.56" fill="#e9afb1" stroke="#c69596" stroke-width="0.8"/>
<circle cx="161.55" cy="378.55" r="3.43" fill="#e2989b" stroke="#c18284" stroke-width="0.8"/>
<text x="161.55" y="380.75" font-size="4.2" text-anchor="middle" fill="#3a1010" fill-opacity="0.75">*</text>
<circle cx="173.85" cy="378.55" r="4.44" fill="#d15b5f" stroke="#b24d51" stroke-width="0.8"/>
<text x="173.85" y="380.75" font-size="4.2" text-anchor="middle" fill="#3a1010" fill-opacity="0.75">***</text>
<circle cx="186.15" cy="378.55" r="3.61" fill="#e08e91" stroke="#be797b" stroke-width="0.8"/>
<text x="186.15" y="380.75" font-size="4.2" text-anchor="middle" fill="#3a1010" fill-opacity="0.75">**</text>
<circle cx="198.45" cy="378.55" r="3.35" fill="#8787c7" stroke="#7372a9" stroke-width="0.8"/>
<text x="198.45" y="380.75" font-size="4.2" text-anchor="middle" fill="#3a1010" fill-opacity="0.75">*</text>
<circle cx="210.75" cy="378.55" r="0.93" fill="#ecebf6" stroke="#c8c8d1" stroke-width="0.8"/>
<circle cx="223.05" cy="378.55" r="0.93" fill="#ecebf6" stroke="#c8c8d1" stroke-width="0.8"/>
<circle cx="235.35" cy="378.55" r="0.81" fill="#efeff7" stroke="#cbcbd2" stroke-width="0.8"/>
<circle cx="100.05" cy="390.85" r="4.13" fill="#d77073" stroke="#b75f62" stroke-width="0.8"/>
<text x="100.05" y="393.05" font-size="4.2" text-anchor="middle" fill="#3a1010" fill-opacity="0.75">***</text>
<circle cx="112.35" cy="390.85" r="4.19" fill="#d66b6f" stroke="#b65b5e" stroke-width="0.8"/>
<text x="112.35" y="393.05" font-size="4.2" text-anchor="middle" fill="#3a1010" fill-opacity="0.75">***</text>
<circle cx="124.65" cy="390.85" r="4.19" fill="#d66b6f" stroke="#b65b5e" stroke-width="0.8"/>
<text x="124.65" y="393.05" font-size="4.2" text-anchor="middle" fill="#3a1010" fill-opacity="0.75">***</text>
<circle cx="136.95" cy="390.85" r="2.80" fill="#ebb7b9" stroke="#c89c9d" stroke-width="0.8"/>
<circle cx="149.25" cy="390.85" r="3.79" fill="#dd8487" stroke="#bc7073" stroke-width="0.8"/>
<text x="149.25" y="393.05" font-size="4.2" text-anchor="middle" fill="#3a1010" fill-opacity="0.75">**</text>
<circle cx="161.55" cy="390.85" r="3.79" fill="#dd8487" stroke="#bc7073" stroke-width="0.8"/>
<text x="161.55" y="393.05" font-size="4.2" text-anchor="middle" fill="#3a1010" fill-opacity="0.75">**</text>
<circle cx="173.85" cy="390.85" r="4.44" fill="#d15b5f" stroke="#b24d51" stroke-width="0.8"/>
<text x="173.85" y="393.05" font-size="4.2" text-anchor="middle" fill="#3a1010" fill-opacity="0.75">***</text>
<circle cx="186.15" cy="390.85" r="4.38" fill="#d35f63" stroke="#b35154" stroke-width="0.8"/>
<text x="186.15" y="393.05" font-size="4.2" text-anchor="middle" fill="#3a1010" fill-opacity="0.75">***</text>
<circle cx="198.45" cy="390.85" r="2.94" fill="#a0a0d3" stroke="#8888b3" stroke-width="0.8"/>
<circle cx="210.75" cy="390.85" r="1.70" fill="#cecee8" stroke="#afafc6" stroke-width="0.8"/>
<circle cx="223.05" cy="390.85" r="1.03" fill="#e8e8f4" stroke="#c5c5d0" stroke-width="0.8"/>
<circle cx="235.35" cy="390.85" r="1.62" fill="#d2d1ea" stroke="#b2b2c7" stroke-width="0.8"/>
<circle cx="112.35" cy="403.15" r="4.29" fill="#d46569" stroke="#b45659" stroke-width="0.8"/>
<text x="112.35" y="405.35" font-size="4.2" text-anchor="middle" fill="#3a1010" fill-opacity="0.75">***</text>
<circle cx="124.65" cy="403.15" r="4.59" fill="#cf5155" stroke="#b04548" stroke-width="0.8"/>
<text x="124.65" y="405.35" font-size="4.2" text-anchor="middle" fill="#3a1010" fill-opacity="0.75">***</text>
<circle cx="136.95" cy="403.15" r="2.56" fill="#e9afb1" stroke="#c69596" stroke-width="0.8"/>
<circle cx="149.25" cy="403.15" r="2.80" fill="#ebb7b9" stroke="#c89c9d" stroke-width="0.8"/>
<circle cx="161.55" cy="403.15" r="3.79" fill="#dd8487" stroke="#bc7073" stroke-width="0.8"/>
<text x="161.55" y="405.35" font-size="4.2" text-anchor="middle" fill="#3a1010" fill-opacity="0.75">**</text>
<circle cx="173.85" cy="403.15" r="4.44" fill="#d15b5f" stroke="#b24d51" stroke-width="0.8"/>
<text x="173.85" y="405.35" font-size="4.2" text-anchor="middle" fill="#3a1010" fill-opacity="0.75">***</text>
<circle cx="186.15" cy="403.15" r="4.44" fill="#d15b5f" stroke="#b24d51" stroke-width="0.8"/>
<text x="186.15" y="405.35" font-size="4.2" text-anchor="middle" fill="#3a1010" fill-opacity="0.75">***</text>
<circle cx="198.45" cy="403.15" r="2.80" fill="#a8a7d6" stroke="#8e8eb6" stroke-width="0.8"/>
<circle cx="210.75" cy="403.15" r="1.13" fill="#f9eaea" stroke="#d4c7c7" stroke-width="0.8"/>
<circle cx="223.05" cy="403.15" r="2.80" fill="#a8a7d6" stroke="#8e8eb6" stroke-width="0.8"/>
<circle cx="235.35" cy="403.15" r="0.54" fill="#fdf7f7" stroke="#d7d2d2" stroke-width="0.8"/>
<circle cx="124.65" cy="415.45" r="4.59" fill="#cf5155" stroke="#b04548" stroke-width="0.8"/>
<text x="124.65" y="417.65" font-size="4.2" text-anchor="middle" fill="#3a1010" fill-opacity="0.75">***</text>
<circle cx="136.95" cy="415.45" r="2.80" fill="#ebb7b9" stroke="#c89c9d" stroke-width="0.8"/>
<circle cx="149.25" cy="415.45" r="3.79" fill="#dd8487" stroke="#bc7073" stroke-width="0.8"/>
<text x="149.25" y="417.65" font-size="4.2" text-anchor="middle" fill="#3a1010" fill-opacity="0.75">**</text>
<circle cx="161.55" cy="415.45" r="3.79" fill="#dd8487" stroke="#bc7073" stroke-width="0.8"/>
<text x="161.55" y="417.65" font-size="4.2" text-anchor="middle" fill="#3a1010" fill-opacity="0.75">**</text>
<circle cx="173.85" cy="415.45" r="4.44" fill="#d15b5f" stroke="#b24d51" stroke-width="0.8"/>
<text x="173.85" y="417.65" font-size="4.2" text-anchor="middle" fill="#3a1010" fill-opacity="0.75">***</text>
<circle cx="186.15" cy="415.45" r="4.44" fill="#d15b5f" stroke="#b24d51" stroke-width="0.8"/>
<text x="186.15" y="417.65" font-size="4.2" text-anchor="middle" fill="#3a1010" fill-opacity="0.75">***</text>
<circle cx="198.45" cy="415.45" r="2.80" fill="#a8a7d6" stroke="#8e8eb6" stroke-width="0.8"/>
<circle cx="210.75" cy="415.45" r="1.62" fill="#d2d1ea" stroke="#b2b2c7" stroke-width="0.8"/>
<circle cx="223.05" cy="415.45" r="2.56" fill="#9e9dd2" stroke="#8686b2" stroke-width="0.8"/>
<circle cx="235.35" cy="415.45" r="1.03" fill="#e8e8f4" stroke="#c5c5d0" stroke-width="0.8"/>
<circle cx="136.95" cy="427.75" r="2.56" fill="#e9afb1" stroke="#c69596" stroke-width="0.8"/>
<circle cx="149.25" cy="427.75" r="3.43" fill="#e2989b" stroke="#c18284" stroke-width="0.8"/>
<text x="149.25" y="429.95" font-size="4.2" text-anchor="middle" fill="#3a1010" fill-opacity="0.75">*</text>
<circle cx="161.55" cy="427.75" r="3.61" fill="#e08e91" stroke="#be797b" stroke-width="0.8"/>
<text x="161.55" y="429.95" font-size="4.2" text-anchor="middle" fill="#3a1010" fill-opacity="0.75">**</text>
<circle cx="173.85" cy="427.75" r="4.73" fill="#cc464b" stroke="#ad3c40" stroke-width="0.8"/>
<text x="173.85" y="429.95" font-size="4.2" text-anchor="middle" fill="#3a1010" fill-opacity="0.75">***</text>
<circle cx="186.15" cy="427.75" r="4.19" fill="#d66b6f" stroke="#b65b5e" stroke-width="0.8"/>
<text x="186.15" y="429.95" font-size="4.2" text-anchor="middle" fill="#3a1010" fill-opacity="0.75">***</text>
<circle cx="198.45" cy="427.75" r="3.43" fill="#8282c5" stroke="#6e6ea7" stroke-width="0.8"/>
<text x="198.45" y="429.95" font-size="4.2" text-anchor="middle" fill="#3a1010" fill-opacity="0.75">*</text>
<circle cx="223.05" cy="427.75" r="2.71" fill="#acacd9" stroke="#9392b8" stroke-width="0.8"/>
<circle cx="235.35" cy="427.75" r="1.47" fill="#f6dfe0" stroke="#d1bebe" stroke-width="0.8"/>
<circle cx="149.25" cy="440.05" r="3.02" fill="#e8adaf" stroke="#c59395" stroke-width="0.8"/>
<circle cx="161.55" cy="440.05" r="3.02" fill="#e8adaf" stroke="#c59395" stroke-width="0.8"/>
<circle cx="173.85" cy="440.05" r="3.61" fill="#e08e91" stroke="#be797b" stroke-width="0.8"/>
<text x="173.85" y="442.25" font-size="4.2" text-anchor="middle" fill="#3a1010" fill-opacity="0.75">**</text>
<circle cx="186.15" cy="440.05" r="3.02" fill="#e8adaf" stroke="#c59395" stroke-width="0.8"/>
<circle cx="198.45" cy="440.05" r="2.56" fill="#9e9dd2" stroke="#8686b2" stroke-width="0.8"/>
<circle cx="210.75" cy="440.05" r="2.31" fill="#aeadd9" stroke="#9493b9" stroke-width="0.8"/>
<circle cx="223.05" cy="440.05" r="1.70" fill="#cecee8" stroke="#afafc6" stroke-width="0.8"/>
<circle cx="235.35" cy="440.05" r="1.22" fill="#e2e2f1" stroke="#c0c0cd" stroke-width="0.8"/>
<circle cx="161.55" cy="452.35" r="3.61" fill="#e08e91" stroke="#be797b" stroke-width="0.8"/>
<text x="161.55" y="454.55" font-size="4.2" text-anchor="middle" fill="#3a1010" fill-opacity="0.75">**</text>
<circle cx="173.85" cy="452.35" r="3.23" fill="#e5a3a5" stroke="#c38a8c" stroke-width="0.8"/>
<text x="173.85" y="454.55" font-size="4.2" text-anchor="middle" fill="#3a1010" fill-opacity="0.75">*</text>
<circle cx="186.15" cy="452.35" r="3.02" fill="#e8adaf" stroke="#c59395" stroke-width="0.8"/>
<circle cx="198.45" cy="452.35" r="3.02" fill="#9b9bd1" stroke="#8483b1" stroke-width="0.8"/>
<circle cx="210.75" cy="452.35" r="3.11" fill="#9696ce" stroke="#807faf" stroke-width="0.8"/>
<circle cx="223.05" cy="452.35" r="2.46" fill="#a4a4d5" stroke="#8b8bb5" stroke-width="0.8"/>
<circle cx="235.35" cy="452.35" r="1.47" fill="#d8d8ed" stroke="#b8b7c9" stroke-width="0.8"/>
<circle cx="173.85" cy="464.65" r="4.29" fill="#d46569" stroke="#b45659" stroke-width="0.8"/>
<text x="173.85" y="466.85" font-size="4.2" text-anchor="middle" fill="#3a1010" fill-opacity="0.75">***</text>
<circle cx="186.15" cy="464.65" r="4.13" fill="#d77073" stroke="#b75f62" stroke-width="0.8"/>
<text x="186.15" y="466.85" font-size="4.2" text-anchor="middle" fill="#3a1010" fill-opacity="0.75">***</text>
<circle cx="198.45" cy="464.65" r="2.80" fill="#a8a7d6" stroke="#8e8eb6" stroke-width="0.8"/>
<circle cx="210.75" cy="464.65" r="2.94" fill="#a0a0d3" stroke="#8888b3" stroke-width="0.8"/>
<circle cx="223.05" cy="464.65" r="3.79" fill="#6968b9" stroke="#59599e" stroke-width="0.8"/>
<text x="223.05" y="466.85" font-size="4.2" text-anchor="middle" fill="#3a1010" fill-opacity="0.75">**</text>
<circle cx="235.35" cy="464.65" r="3.23" fill="#8e8ecb" stroke="#7979ac" stroke-width="0.8"/>
<text x="235.35" y="466.85" font-size="4.2" text-anchor="middle" fill="#3a1010" fill-opacity="0.75">*</text>
<circle cx="186.15" cy="476.95" r="4.44" fill="#d15b5f" stroke="#b24d51" stroke-width="0.8"/>
<text x="186.15" y="479.15" font-size="4.2" text-anchor="middle" fill="#3a1010" fill-opacity="0.75">***</text>
<circle cx="198.45" cy="476.95" r="2.94" fill="#a0a0d3" stroke="#8888b3" stroke-width="0.8"/>
<circle cx="210.75" cy="476.95" r="1.47" fill="#d8d8ed" stroke="#b8b7c9" stroke-width="0.8"/>
<circle cx="223.05" cy="476.95" r="2.14" fill="#b8b7de" stroke="#9c9cbd" stroke-width="0.8"/>
<circle cx="235.35" cy="476.95" r="0.68" fill="#fcf4f5" stroke="#d6d0d0" stroke-width="0.8"/>
<circle cx="198.45" cy="489.25" r="2.56" fill="#9e9dd2" stroke="#8686b2" stroke-width="0.8"/>
<circle cx="210.75" cy="489.25" r="2.46" fill="#a4a4d5" stroke="#8b8bb5" stroke-width="0.8"/>
<circle cx="223.05" cy="489.25" r="2.46" fill="#a4a4d5" stroke="#8b8bb5" stroke-width="0.8"/>
<circle cx="210.75" cy="501.55" r="1.47" fill="#f6dfe0" stroke="#d1bebe" stroke-width="0.8"/>
<circle cx="223.05" cy="501.55" r="2.14" fill="#efc4c6" stroke="#cba7a8" stroke-width="0.8"/>
<circle cx="235.35" cy="501.55" r="1.31" fill="#f8e4e5" stroke="#d2c2c3" stroke-width="0.8"/>
<circle cx="223.05" cy="513.85" r="1.13" fill="#f9eaea" stroke="#d4c7c7" stroke-width="0.8"/>
<circle cx="235.35" cy="513.85" r="2.56" fill="#e9afb1" stroke="#c69596" stroke-width="0.8"/>
<circle cx="235.35" cy="526.15" r="4.13" fill="#d77073" stroke="#b75f62" stroke-width="0.8"/>
<text x="235.35" y="528.35" font-size="4.2" text-anchor="middle" fill="#3a1010" fill-opacity="0.75">***</text>
<text x="42.00" y="343.75" font-size="5.9" text-anchor="end" fill="#111" stroke="#111" stroke-width="0.09">AST</text>
<text x="54.30" y="356.05" font-size="5.9" text-anchor="end" fill="#111" stroke="#111" stroke-width="0.09">endotoxin</text>
<text x="66.60" y="368.35" font-size="5.9" text-anchor="end" fill="#111" stroke="#111" stroke-width="0.09">alpha−SMA area</text>
<text x="78.90" y="380.65" font-size="5.9" text-anchor="end" fill="#111" stroke="#111" stroke-width="0.09">Fibrosis score</text>
<text x="91.20" y="392.95" font-size="5.9" text-anchor="end" fill="#111" stroke="#111" stroke-width="0.09">TC</text>
<text x="103.50" y="405.25" font-size="5.9" text-anchor="end" fill="#111" stroke="#111" stroke-width="0.09">PPAR−gamma</text>
<text x="115.80" y="417.55" font-size="5.9" text-anchor="end" fill="#111" stroke="#111" stroke-width="0.09">Oil red O area</text>
<text x="128.10" y="429.85" font-size="5.9" text-anchor="end" fill="#111" stroke="#111" stroke-width="0.09">MCP−1</text>
<text x="140.40" y="442.15" font-size="5.9" text-anchor="end" fill="#111" stroke="#111" stroke-width="0.09">NOX2</text>
<text x="152.70" y="454.45" font-size="5.9" text-anchor="end" fill="#111" stroke="#111" stroke-width="0.09">ACTA2</text>
<text x="165.00" y="466.75" font-size="5.9" text-anchor="end" fill="#111" stroke="#111" stroke-width="0.09">TBA</text>
<text x="177.30" y="479.05" font-size="5.9" text-anchor="end" fill="#111" stroke="#111" stroke-width="0.09">NAS score</text>
<text x="189.60" y="491.35" font-size="5.9" text-anchor="end" fill="#111" stroke="#111" stroke-width="0.09">ALT</text>
<text x="201.90" y="503.65" font-size="5.9" text-anchor="end" fill="#111" stroke="#111" stroke-width="0.09">PGC−1alpha</text>
<text x="214.20" y="515.95" font-size="5.9" text-anchor="end" fill="#111" stroke="#111" stroke-width="0.09">ZO−1</text>
<text x="226.50" y="528.25" font-size="5.9" text-anchor="end" fill="#111" stroke="#111" stroke-width="0.09">Occludin</text>
<text transform="translate(53.35,333.00) rotate(-90)" font-size="5.85" fill="#111" stroke="#111" stroke-width="0.09">endotoxin</text>
<text transform="translate(65.65,333.00) rotate(-90)" font-size="5.85" fill="#111" stroke="#111" stroke-width="0.09">alpha−SMA area</text>
<text transform="translate(77.95,333.00) rotate(-90)" font-size="5.85" fill="#111" stroke="#111" stroke-width="0.09">Fibrosis score</text>
<text transform="translate(90.25,333.00) rotate(-90)" font-size="5.85" fill="#111" stroke="#111" stroke-width="0.09">TC</text>
<text transform="translate(102.55,333.00) rotate(-90)" font-size="5.85" fill="#111" stroke="#111" stroke-width="0.09">PPAR−gamma</text>
<text transform="translate(114.85,333.00) rotate(-90)" font-size="5.85" fill="#111" stroke="#111" stroke-width="0.09">Oil red O area</text>
<text transform="translate(127.15,333.00) rotate(-90)" font-size="5.85" fill="#111" stroke="#111" stroke-width="0.09">MCP−1</text>
<text transform="translate(139.45,333.00) rotate(-90)" font-size="5.85" fill="#111" stroke="#111" stroke-width="0.09">NOX2</text>
<text transform="translate(151.75,333.00) rotate(-90)" font-size="5.85" fill="#111" stroke="#111" stroke-width="0.09">ACTA2</text>
<text transform="translate(164.05,333.00) rotate(-90)" font-size="5.85" fill="#111" stroke="#111" stroke-width="0.09">TBA</text>
<text transform="translate(176.35,333.00) rotate(-90)" font-size="5.85" fill="#111" stroke="#111" stroke-width="0.09">NAS score</text>
<text transform="translate(188.65,333.00) rotate(-90)" font-size="5.85" fill="#111" stroke="#111" stroke-width="0.09">ALT</text>
<text transform="translate(200.95,333.00) rotate(-90)" font-size="5.85" fill="#111" stroke="#111" stroke-width="0.09">PGC−1alpha</text>
<text transform="translate(213.25,333.00) rotate(-90)" font-size="5.85" fill="#111" stroke="#111" stroke-width="0.09">ZO−1</text>
<text transform="translate(225.55,333.00) rotate(-90)" font-size="5.85" fill="#111" stroke="#111" stroke-width="0.09">Occludin</text>
<text transform="translate(237.85,333.00) rotate(-90)" font-size="5.85" fill="#111" stroke="#111" stroke-width="0.09">MUC2</text>
<defs><linearGradient id="cb" x1="0" y1="0" x2="0" y2="1"><stop offset="0" stop-color="#b4242a"/><stop offset="0.5" stop-color="#ffffff"/><stop offset="1" stop-color="#0a088c"/></linearGradient></defs>
<rect x="245.2" y="335.4" width="7.6" height="197.20" fill="url(#cb)" stroke="#666" stroke-width="0.9"/>
<line x1="252.79999999999998" y1="335.40" x2="254.7" y2="335.40" stroke="#888" stroke-width="0.4"/>
<text x="261.5" y="337.00" font-size="4.7" fill="#444" stroke="#444" stroke-width="0.1">1</text>
<line x1="252.79999999999998" y1="355.12" x2="254.7" y2="355.12" stroke="#888" stroke-width="0.4"/>
<text x="258.5" y="356.72" font-size="4.7" fill="#444" stroke="#444" stroke-width="0.1">0.8</text>
<line x1="252.79999999999998" y1="374.84" x2="254.7" y2="374.84" stroke="#888" stroke-width="0.4"/>
<text x="258.5" y="376.44" font-size="4.7" fill="#444" stroke="#444" stroke-width="0.1">0.6</text>
<line x1="252.79999999999998" y1="394.56" x2="254.7" y2="394.56" stroke="#888" stroke-width="0.4"/>
<text x="258.5" y="396.16" font-size="4.7" fill="#444" stroke="#444" stroke-width="0.1">0.4</text>
<line x1="252.79999999999998" y1="414.28" x2="254.7" y2="414.28" stroke="#888" stroke-width="0.4"/>
<text x="258.5" y="415.88" font-size="4.7" fill="#444" stroke="#444" stroke-width="0.1">0.2</text>
<line x1="252.79999999999998" y1="434.00" x2="254.7" y2="434.00" stroke="#888" stroke-width="0.4"/>
<text x="261.5" y="435.60" font-size="4.7" fill="#444" stroke="#444" stroke-width="0.1">0</text>
<line x1="252.79999999999998" y1="453.72" x2="254.7" y2="453.72" stroke="#888" stroke-width="0.4"/>
<text x="258.5" y="455.32" font-size="4.7" fill="#444" stroke="#444" stroke-width="0.1">−0.2</text>
<line x1="252.79999999999998" y1="473.44" x2="254.7" y2="473.44" stroke="#888" stroke-width="0.4"/>
<text x="258.5" y="475.04" font-size="4.7" fill="#444" stroke="#444" stroke-width="0.1">−0.4</text>
<line x1="252.79999999999998" y1="493.16" x2="254.7" y2="493.16" stroke="#888" stroke-width="0.4"/>
<text x="258.5" y="494.76" font-size="4.7" fill="#444" stroke="#444" stroke-width="0.1">−0.6</text>
<line x1="252.79999999999998" y1="512.88" x2="254.7" y2="512.88" stroke="#888" stroke-width="0.4"/>
<text x="258.5" y="514.48" font-size="4.7" fill="#444" stroke="#444" stroke-width="0.1">−0.8</text>
<line x1="252.79999999999998" y1="532.60" x2="254.7" y2="532.60" stroke="#888" stroke-width="0.4"/>
<text x="258.5" y="534.20" font-size="4.7" fill="#444" stroke="#444" stroke-width="0.1">−1</text>
</svg></body></html>
